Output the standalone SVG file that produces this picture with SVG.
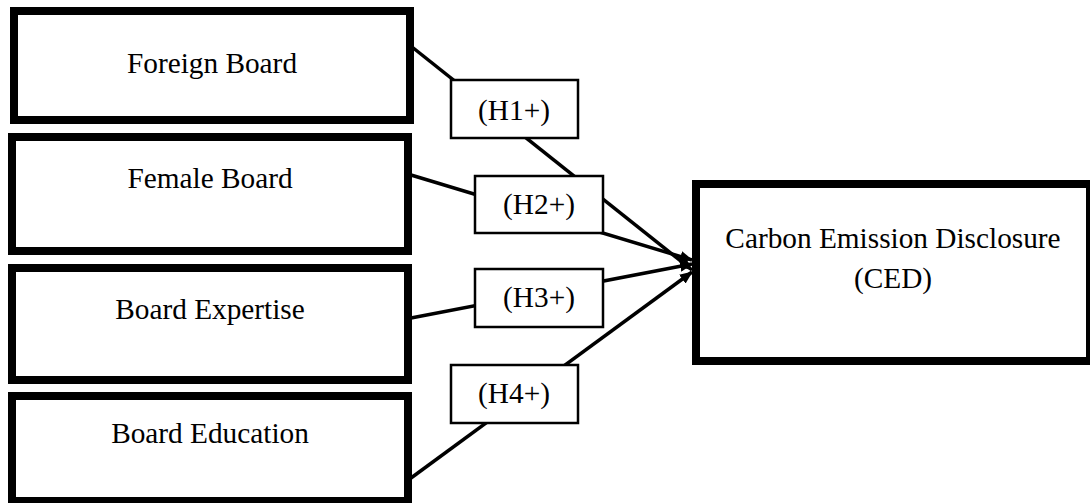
<svg xmlns="http://www.w3.org/2000/svg" width="1090" height="503" viewBox="0 0 1090 503">
<style>
.node{fill:#fff;stroke:#000;stroke-width:8}
.lab{fill:#fff;stroke:#000;stroke-width:2.5}
.t{font-family:"Liberation Serif","Times New Roman",serif;font-size:29.3px;fill:#000;text-anchor:middle}
.c{stroke:#000;stroke-width:3.5;fill:none}
</style>
<defs>
<marker id="ah" markerUnits="userSpaceOnUse" markerWidth="13" markerHeight="11" refX="12" refY="5.5" orient="auto">
<path d="M0,0 L13,5.5 L0,11 Z" fill="#000"/>
</marker>
</defs>
<rect width="1090" height="503" fill="#fff"/>
<g id="connectors">
<line class="c" x1="412" y1="47" x2="692" y2="270" marker-end="url(#ah)"/>
<line class="c" x1="411" y1="175" x2="692" y2="260" marker-end="url(#ah)"/>
<line class="c" x1="411" y1="318" x2="692" y2="264" marker-end="url(#ah)"/>
<line class="c" x1="411" y1="478" x2="692" y2="272" marker-end="url(#ah)"/>
</g>
<g id="foreign-board">
<rect class="node" x="14" y="11" width="396" height="109"/>
<text class="t" x="212" y="73">Foreign Board</text>
</g>
<g id="female-board">
<rect class="node" x="12" y="137" width="396" height="114"/>
<text class="t" x="210" y="188">Female Board</text>
</g>
<g id="board-expertise">
<rect class="node" x="12" y="268" width="396" height="112"/>
<text class="t" x="210" y="319">Board Expertise</text>
</g>
<g id="board-education">
<rect class="node" x="12" y="396" width="396" height="105"/>
<text class="t" x="210" y="443">Board Education</text>
</g>
<g id="ced">
<rect class="node" x="696" y="184" width="394" height="177"/>
<text class="t" x="893" y="248">Carbon Emission Disclosure</text>
<text class="t" x="893" y="288">(CED)</text>
</g>
<g id="h1">
<rect class="lab" x="451" y="80" width="127" height="58"/>
<text class="t" x="514" y="120">(H1+)</text>
</g>
<g id="h2">
<rect class="lab" x="475" y="176" width="128" height="57"/>
<text class="t" x="539" y="214">(H2+)</text>
</g>
<g id="h3">
<rect class="lab" x="475" y="269" width="128" height="58"/>
<text class="t" x="539" y="307">(H3+)</text>
</g>
<g id="h4">
<rect class="lab" x="451" y="365" width="127" height="58"/>
<text class="t" x="514" y="403">(H4+)</text>
</g>
</svg>
